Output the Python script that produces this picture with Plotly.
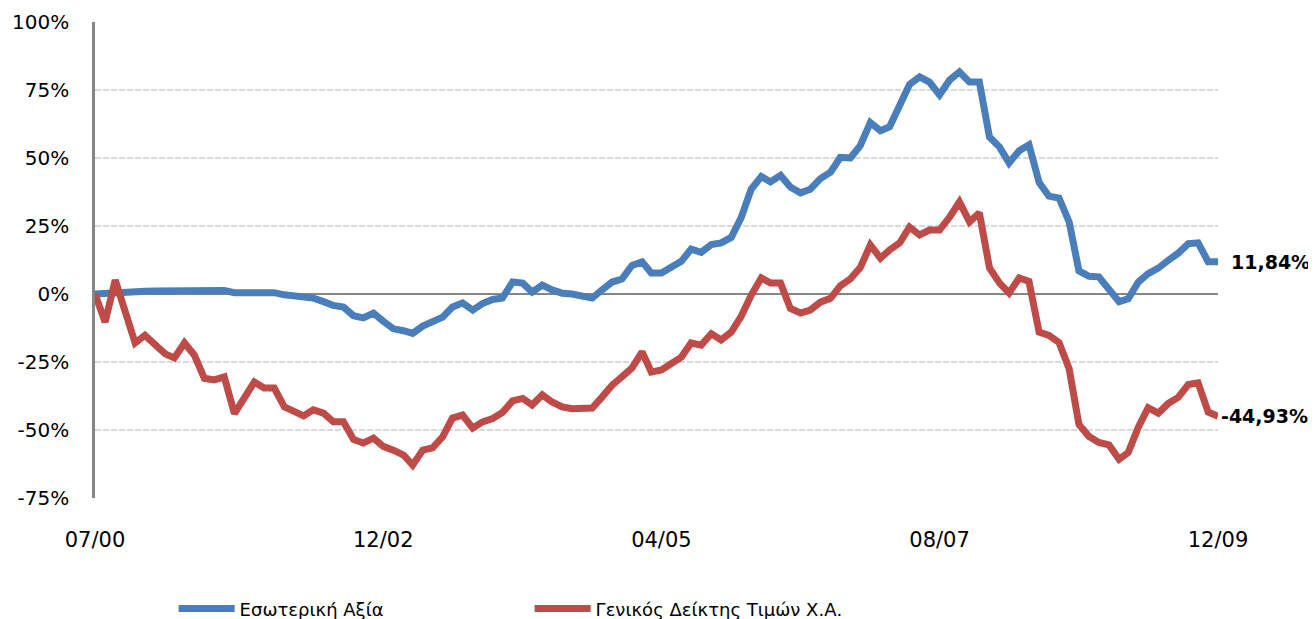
import pandas as pd
import plotly.graph_objects as go

# Monthly observations, 07/2000 .. 12/2009
months = pd.date_range("2000-07-01", "2009-12-01", freq="MS").strftime("%Y-%m-%d").tolist()

series_names = ["Εσωτερική Αξία", "Γενικός Δείκτης Τιμών Χ.Α."]

intrinsic_value = [
    0.0, 0.3, 0.6, 0.8, 0.9, 1.0, 1.1, 1.1, 1.2, 1.2,
    1.2, 1.3, 1.3, 1.3, 0.5, 0.5, 0.7, 1.1, 0.5, -0.3,
    -0.8, -1.2, -1.5, -2.8, -4.2, -4.8, -8.0, -8.8, -7.0, -10.0,
    -12.8, -13.5, -14.5, -11.8, -10.0, -8.5, -4.8, -3.3, -5.9, -3.5,
    -2.0, -1.5, 4.4, 4.0, 0.7, 3.3, 1.5, 0.3, 0.0, -0.8,
    -1.5, 1.5, 4.4, 5.5, 10.5, 11.8, 7.7, 7.7, 10.0, 12.0,
    16.5, 15.3, 18.2, 18.8, 20.8, 28.0, 38.5, 43.2, 41.2, 43.6,
    39.3, 37.2, 38.5, 42.4, 44.8, 50.2, 50.0, 54.5, 63.0, 60.0,
    61.5, 69.5, 77.0, 79.8, 77.9, 73.2, 78.7, 81.6, 77.9, 77.9,
    57.7, 54.0, 48.2, 52.7, 54.8, 41.0, 36.0, 35.3, 26.5, 8.5,
    6.5, 6.3, 2.0, -2.8, -1.8, 4.4, 7.5, 9.5, 12.3, 15.0,
    18.5, 18.8, 11.84, 11.84,
]

general_index = [
    0.0, -10.3, 5.1, -5.5, -18.0, -15.2, -18.8, -22.0, -23.5, -18.0,
    -22.4, -31.0, -31.6, -30.5, -44.0, -38.0, -32.4, -34.6, -34.6, -41.5,
    -43.0, -44.8, -42.6, -43.8, -47.0, -47.0, -53.5, -54.8, -53.0, -56.0,
    -57.4, -59.2, -62.9, -57.4, -56.6, -52.5, -45.6, -44.5, -49.3, -47.0,
    -45.8, -43.6, -39.3, -38.4, -40.8, -37.1, -39.7, -41.5, -42.2, -42.3,
    -41.9, -37.9, -33.5, -30.5, -27.2, -21.3, -28.7, -27.9, -25.5, -23.2,
    -18.0, -18.8, -14.6, -16.9, -14.0, -8.3, -0.5, 5.9, 4.0, 4.0,
    -5.3, -7.0, -5.9, -3.0, -1.6, 3.0, 5.6, 9.7, 18.0, 13.2,
    16.2, 18.8, 24.6, 21.7, 23.5, 23.5, 28.3, 33.8, 26.5, 29.8,
    9.6, 4.0, 0.4, 5.9, 4.6, -14.0, -15.2, -17.8, -27.5, -48.0,
    -52.4, -54.6, -55.5, -60.8, -58.3, -49.0, -41.8, -43.8, -40.3, -38.0,
    -33.3, -32.7, -43.4, -44.93,
]

end_labels = ["11,84%", "-44,93%"]
x_tick_dates = ["2000-07-01", "2002-12-01", "2005-04-01", "2007-08-01", "2009-12-01"]
x_tick_labels = ["07/00", "12/02", "04/05", "08/07", "12/09"]
y_tick_values = [-75, -50, -25, 0, 25, 50, 75, 100]
y_tick_labels = ["-75%", "-50%", "-25%", "0%", "25%", "50%", "75%", "100%"]

colors = ["#4A7EBB", "#BE4B48"]
FONT = "DejaVu Sans"

fig = go.Figure()
for name, vals, col in zip(series_names, [intrinsic_value, general_index], colors):
    fig.add_trace(go.Scatter(
        x=months, y=vals, name=name, mode="lines",
        line=dict(color=col, width=7),
        hoverinfo="skip",
    ))

# End-of-series labels
for vals, lab, xs in zip([intrinsic_value, general_index], end_labels, [11, 1]):
    fig.add_annotation(
        x=months[-1], y=vals[-1], text=lab, showarrow=False,
        xanchor="left", yanchor="middle", xshift=xs,
        font=dict(family=FONT, size=19, color="#000000", weight="bold"),
    )

# The page places the figure 8px from the top-left corner, so the figure is
# sized to the remaining viewport.
fig.update_layout(
    width=1308, height=611,
    margin=dict(l=87, r=98, t=14, b=121, autoexpand=False),
    paper_bgcolor="white", plot_bgcolor="white",
    font=dict(family=FONT, size=19, color="#000000"),
    showlegend=True,
    legend=dict(
        orientation="h", x=0.070, xanchor="left", y=-0.233, yanchor="middle",
        entrywidth=285, entrywidthmode="pixels",
        font=dict(family=FONT, size=18, color="#000000"),
        bgcolor="rgba(0,0,0,0)", itemwidth=56,
    ),
)

fig.update_xaxes(
    type="date",
    range=[months[0], months[-1]],
    tickvals=x_tick_dates, ticktext=x_tick_labels,
    showgrid=False, showline=False, zeroline=False, ticks="",
    ticklabelstandoff=27, automargin=False,
    tickfont=dict(family=FONT, size=21, color="#000000"),
)

fig.update_yaxes(
    range=[-75, 100],
    tickvals=y_tick_values, ticktext=y_tick_labels,
    showgrid=True, gridcolor="#D9D9D9", gridwidth=1.5, griddash="6px,2px",
    zeroline=True, zerolinecolor="#868686", zerolinewidth=2,
    showline=True, linecolor="#868686", linewidth=2.5,
    ticks="", ticklabelstandoff=19, automargin=False,
    tickfont=dict(family=FONT, size=20, color="#000000"),
)

fig.write_html("out.html")
